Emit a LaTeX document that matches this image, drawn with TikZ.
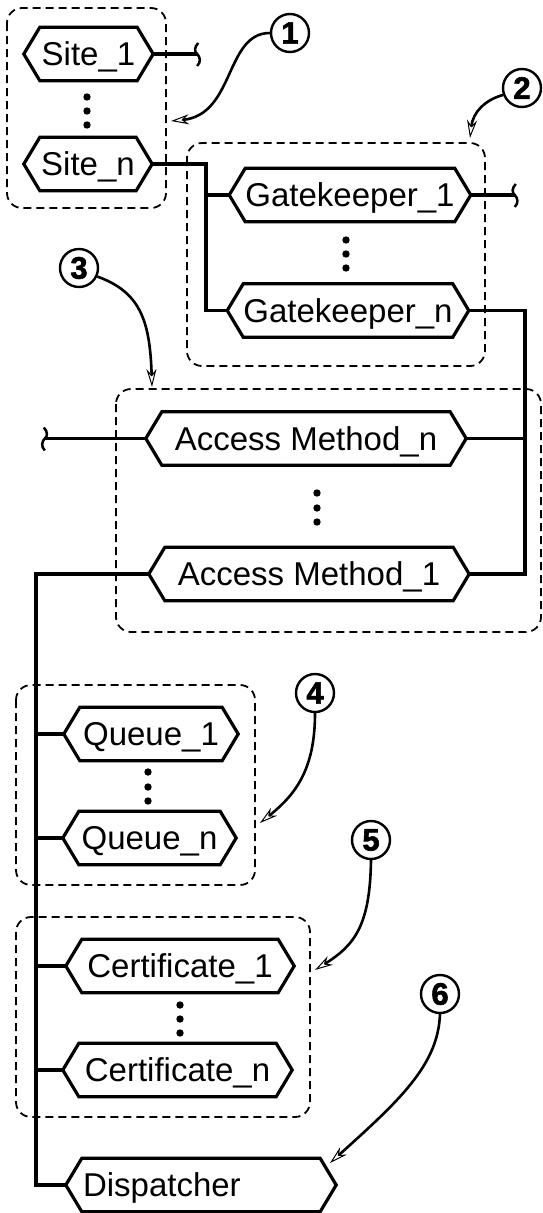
\documentclass[tikz,border=0pt]{standalone}
\usepackage{fontspec}
\setmainfont{Liberation Sans}
\newfontfamily\numfam[FakeBold=2]{Liberation Sans Bold}
\usetikzlibrary{arrows.meta}
\newcommand\hexfont{\fontsize{33pt}{38pt}\selectfont}
\newcommand\numfont{\numfam\fontsize{31pt}{34pt}\selectfont}
\tikzset{
  hexa/.style={rectangle, minimum height=53pt, inner sep=0pt, text height=23.5pt, text depth=0pt, font=\hexfont},
  hexline/.style={line width=3.2pt, line join=miter},
  conn/.style={line width=3.2pt},
  grp/.style={line width=1.8pt, dash pattern=on 8pt off 5pt, rounded corners=15pt},
  num/.style={circle, draw, line width=2.4pt, minimum size=38pt, inner sep=0pt, font=\numfont},
  callout/.style={line width=2.6pt, -{Stealth[open, length=18pt, width=10pt, line width=1pt]}},
  brkR/.pic={\draw[line width=2.5pt] (1,-11) .. controls (-3,-7) and (-3,-2) .. (0,0) .. controls (3,3) and (4,8) .. (0,12);},
  brkL/.pic={\draw[line width=2.5pt] (-1,-11) .. controls (3,-7) and (3,-2) .. (0,0) .. controls (-3,3) and (-4,8) .. (0,12);}
}
\begin{document}
\begin{tikzpicture}[x=1pt,y=-1pt]
\useasboundingbox (0,0) rectangle (542,1213);

% group boxes
\draw[grp] (7,8) rectangle (166,208);
\draw[grp] (187,143) rectangle (485,366);
\draw[grp] (116,389) rectangle (541,632);
\draw[grp] (16,685) rectangle (255,885);
\draw[grp] (16,917) rectangle (310,1117);

% hexagon nodes
\node[hexa, minimum width=97pt] (s1) at (88.5,54) {Site\_1};
\node[hexa, minimum width=96pt] (sn) at (88,164) {Site\_n};
\node[hexa, minimum width=206pt] (g1) at (350,195) {Gatekeeper\_1};
\node[hexa, minimum width=206pt] (gn) at (348,310.5) {Gatekeeper\_n};
\node[hexa, minimum width=288pt] (amn) at (306,438.5) {Access Method\_n};
\node[hexa, minimum width=288pt] (am1) at (309,574) {Access Method\_1};
\node[hexa, minimum width=142pt] (q1) at (151,734) {Queue\_1};
\node[hexa, minimum width=141pt] (qn) at (149.5,838) {Queue\_n};
\node[hexa, minimum width=196pt] (c1) at (180,966) {Certificate\_1};
\node[hexa, minimum width=197pt] (cn) at (177.5,1070) {Certificate\_n};
\node[hexa, minimum width=238pt] (disp) at (201,1185) {\makebox[238pt][l]{\hspace{1pt}Dispatcher}};

\foreach \n in {s1,sn,g1,gn,amn,am1,q1,qn,c1,cn,disp}{
  \draw[hexline] (\n.north west) -- (\n.north east) -- ([xshift=16pt]\n.east) -- (\n.south east) -- (\n.south west) -- ([xshift=-16pt]\n.west) -- cycle;
  \coordinate (\n-L) at ([xshift=-16pt]\n.west);
  \coordinate (\n-R) at ([xshift=16pt]\n.east);
}

% dots
\foreach \x/\y in {87/97,87/111,87/125, 346/240,346/254,346/268, 317/493,317/508,317/522, 148/772,148/787,148/801, 180/1005,180/1019,180/1033}
  \fill (\x,\y) circle[radius=3.7pt];

% connectors
\coordinate (b1) at ([xshift=44pt]s1-R);
\draw[conn] (s1-R) -- (b1);
\pic at (b1) {brkR};

\coordinate (j1) at (206,164);
\draw[conn] (sn-R) -- (sn-R -| j1) -- (j1 |- gn-L) -- (gn-L);
\draw[conn] (j1 |- g1-L) -- (g1-L);

\coordinate (b2) at ([xshift=44pt]g1-R);
\draw[conn] (g1-R) -- (b2);
\pic at (b2) {brkR};

\coordinate (j2) at (525,311);
\draw[conn] (gn-R) -- (gn-R -| j2) -- (j2 |- am1-R) -- (am1-R);
\draw[conn] (j2 |- amn-R) -- (amn-R);

\coordinate (b3) at ([xshift=-101pt]amn-L);
\draw[conn] (amn-L) -- (b3);
\pic at (b3) {brkL};

\coordinate (j3) at (36,574);
\draw[conn] (am1-L) -- (am1-L -| j3) -- (j3 |- disp-L) -- (disp-L);
\foreach \n in {q1,qn,c1,cn}
  \draw[conn] (j3 |- \n-L) -- (\n-L);

% numbered callouts
\node[num] (n1) at (290,33) {1};
\node[num] (n2) at (522,88) {2};
\node[num] (n3) at (79,268) {3};
\node[num] (n4) at (315,693) {4};
\node[num] (n5) at (371,840) {5};
\node[num] (n6) at (440,994) {6};

\coordinate (t1) at (171,121);
\draw[callout] (n1.west) .. controls (225,33) and (235,115) .. (t1);
\coordinate (t2) at (470,138);
\draw[callout] (n2.200) .. controls (485,100) and (473,112) .. (t2);
\coordinate (t3) at (152,387);
\draw[callout] (n3.-25) .. controls (140,292) and (150,320) .. (t3);
\coordinate (t4) at (260,823);
\draw[callout] (n4.south) .. controls (315,770) and (295,795) .. (t4);
\coordinate (t5) at (315,970);
\draw[callout] (n5.south) .. controls (370,925) and (355,945) .. (t5);
\coordinate (t6) at (330,1163);
\draw[callout] (n6.south) .. controls (438,1065) and (400,1100) .. (t6);
\end{tikzpicture}
\end{document}
